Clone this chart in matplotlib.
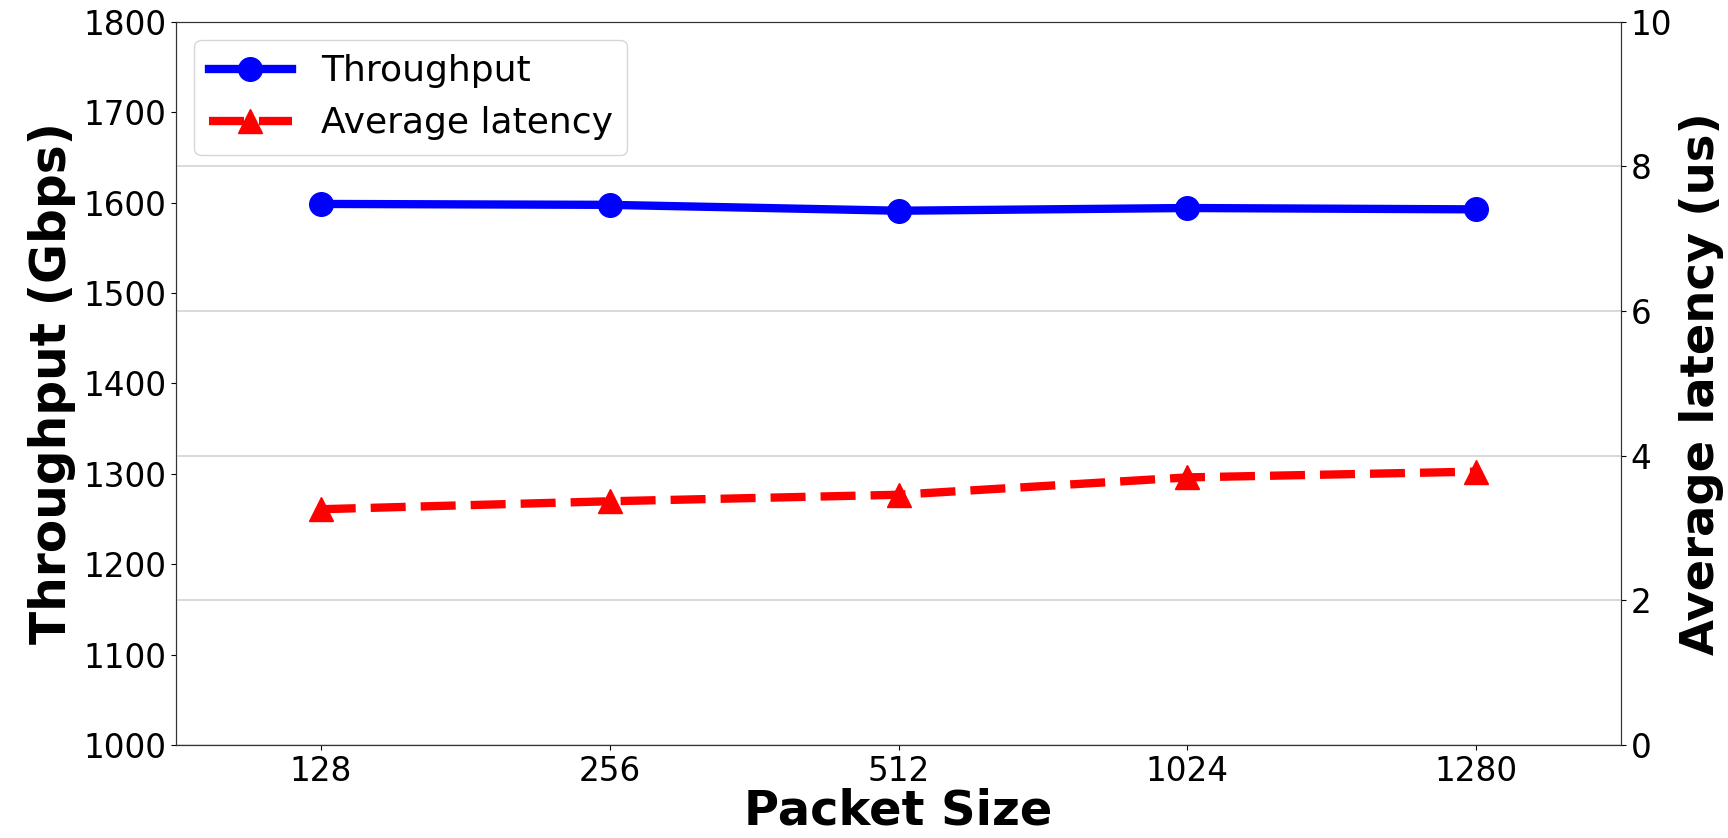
import matplotlib
matplotlib.use("Agg")
import matplotlib.pyplot as plt

packet_sizes = ["128", "256", "512", "1024", "1280"]
throughput = [1598.5, 1597.5, 1591.0, 1594.0, 1592.5]
latency = [3.26, 3.37, 3.46, 3.70, 3.78]

plt.rcParams['font.family'] = ['DejaVu Sans']

fig = plt.figure(figsize=(17.28, 8.38), dpi=100)
ax = fig.add_axes([0.102, 0.111, 0.836, 0.863])
ax2 = ax.twinx()

x = list(range(len(packet_sizes)))
l1, = ax.plot(x, throughput, color='blue', linewidth=6, marker='o',
              markersize=17, label='Throughput')
l2, = ax2.plot(x, latency, color='red', linewidth=6, linestyle='--',
               dashes=(4.2, 1.8), marker='^', markersize=17, label='Average latency')

ax.set_xlim(-0.5, 4.5)
ax.set_ylim(1000, 1800)
ax2.set_ylim(0, 10)
ax.set_xticks(x)
ax.set_xticklabels(packet_sizes)
ax.set_yticks(range(1000, 1801, 100))
ax2.set_yticks(range(0, 11, 2))

ax2.grid(axis='y', color='lightgray', linewidth=1.2)
ax.set_axisbelow(True)

ax.tick_params(labelsize=23.5)
ax2.tick_params(labelsize=23.5)

ax.set_xlabel('Packet Size', fontsize=34.5, fontweight='bold', labelpad=0)
ax.set_ylabel('Throughput (Gbps)', fontsize=35, fontweight='bold', labelpad=5)
ax2.set_ylabel('Average latency (us)', fontsize=33.5, fontweight='bold', labelpad=5)

ax.legend(handles=[l1, l2], loc='upper left', fontsize=26, handlelength=2.3,
          borderaxespad=0.5)

for a in (ax, ax2):
    for s in a.spines.values():
        s.set_color('#333333')

fig.savefig('out.png', dpi=100)
